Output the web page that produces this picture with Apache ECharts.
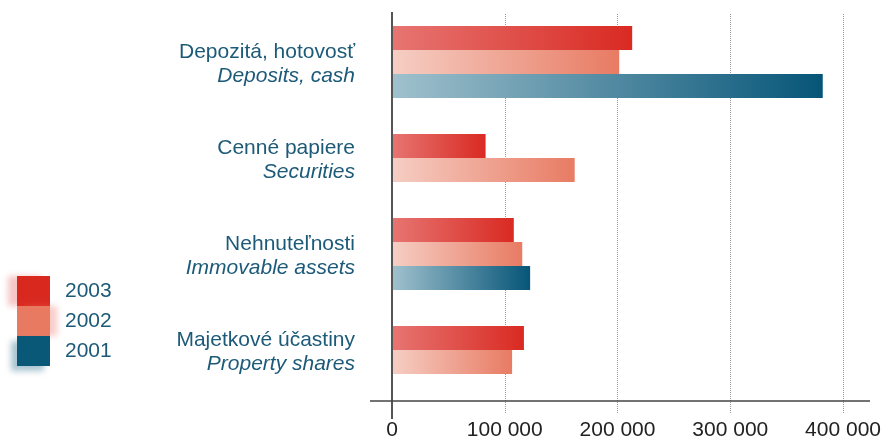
<!DOCTYPE html>
<html><head><meta charset="utf-8">
<script src="https://cdn.jsdelivr.net/npm/echarts@6/dist/echarts.min.js"></script>
<style>html,body{margin:0;padding:0;background:#fff}#c{width:884px;height:441px}</style>
</head><body><div id="c"></div>
<script>
const categoriesSk = ['Depozitá, hotovosť', 'Cenné papiere', 'Nehnuteľnosti', 'Majetkové účastiny'];
const categoriesEn = ['Deposits, cash', 'Securities', 'Immovable assets', 'Property shares'];
const years = ['2003', '2002', '2001'];
const v2003 = [213000, 83000, 108000, 117000];
const v2002 = [201500, 162000, 115500, 106500];
const v2001 = [382000, null, 122500, null];
const xTicks = [0, 100000, 200000, 300000, 400000];

const values = [v2003, v2002, v2001];
const grads = [
  ['#e77572', '#d92a22'],
  ['#f6cec4', '#e87b63'],
  ['#a0c1cd', '#065578']
];
const solid = ['#d9291f', '#e87a62', '#0a5878'];
const shadowCfg = [
  {c: 'rgba(230,90,90,0.35)', x: -9, y: 0},
  {c: 'rgba(235,110,95,0.35)', x: 7, y: 0},
  {c: 'rgba(10,88,120,0.35)', x: -6, y: 5}
];
const txt = '#1c5a78';
const font = 'Liberation Sans, Arial, Helvetica, sans-serif';

const chart = echarts.init(document.getElementById('c'));
const full = v2001.map(v => v !== null);
const series = [];
const grad = i => new echarts.graphic.LinearGradient(0, 0, 1, 0, [
  {offset: 0, color: grads[i][0]}, {offset: 1, color: grads[i][1]}]);
values.forEach((arr, i) => {
  series.push({
    name: years[i], type: 'bar', yAxisIndex: 0, barWidth: 24, barGap: '0%',
    itemStyle: {color: grad(i)}, silent: true,
    data: arr.map((v, k) => full[k] ? v : null)
  });
});
values.forEach((arr, i) => {
  if (i === 2) return;
  series.push({
    name: years[i], type: 'bar', yAxisIndex: 1, barWidth: 24, barGap: '0%',
    itemStyle: {color: grad(i)}, silent: true,
    data: arr.map((v, k) => full[k] ? null : v)
  });
});

const fmt = v => String(v).replace(/\B(?=(\d{3})+(?!\d))/g, ' ');

chart.setOption({
  animation: false,
  textStyle: {fontFamily: font},
  grid: {left: 392, right: 37, top: 14, bottom: 43, containLabel: false},
  legend: {
    orient: 'vertical', left: 17, top: 276, padding: 0, itemWidth: 33, itemHeight: 30, itemGap: 0,
    textStyle: {color: txt, fontSize: 21, fontFamily: font, padding: [0, 0, 0, 10]},
    data: years.map((y, i) => ({
      name: y, icon: 'rect',
      itemStyle: {color: solid[i], shadowBlur: 6, shadowColor: shadowCfg[i].c, shadowOffsetX: shadowCfg[i].x, shadowOffsetY: shadowCfg[i].y}
    })),
    selectedMode: false
  },
  xAxis: [{
    type: 'value', min: 0, max: 400000, interval: 100000,
    axisLine: {show: false},
    axisTick: {show: true, length: 15, customValues: xTicks.slice(1), lineStyle: {color: '#999', type: 'dotted', width: 1}},
    splitLine: {show: true, lineStyle: {color: '#999', type: 'dotted', width: 1}},
    axisLabel: {customValues: xTicks, formatter: fmt, color: '#222', fontSize: 21, fontFamily: font, margin: 22}
  }, {
    type: 'value', min: 0, max: 400000, position: 'bottom',
    axisLine: {show: false}, splitLine: {show: false}, axisLabel: {show: false},
    axisTick: {show: true, length: 21, customValues: [0], lineStyle: {color: '#555', width: 2}}
  }],
  yAxis: [{
    type: 'category', inverse: true, data: categoriesSk,
    axisLine: {show: false},
    axisTick: {show: false},
    axisLabel: {
      margin: 37, color: txt, fontFamily: font, fontSize: 21, lineHeight: 24, align: 'right',
      padding: [4, 0, 0, 0],
      formatter: (v, i) => '{a|' + v + '}\n{b|' + categoriesEn[i] + '}',
      rich: {
        a: {fontSize: 21, color: txt, fontFamily: font, lineHeight: 24, align: 'right'},
        b: {fontSize: 21, color: txt, fontStyle: 'italic', fontFamily: font, lineHeight: 24, align: 'right'}
      }
    }
  }, {
    type: 'category', inverse: true, data: categoriesSk, position: 'left',
    axisLine: {show: false}, axisTick: {show: false}, axisLabel: {show: false}, splitLine: {show: false}
  }],
  graphic: [{
    type: 'line', shape: {x1: 392, y1: 12, x2: 392, y2: 401},
    style: {stroke: '#555', lineWidth: 2}, z: 10
  }, {
    type: 'line', shape: {x1: 370, y1: 401, x2: 870, y2: 401},
    style: {stroke: '#444', lineWidth: 1.5}, z: 10
  }],
  series: series
});
</script></body></html>
